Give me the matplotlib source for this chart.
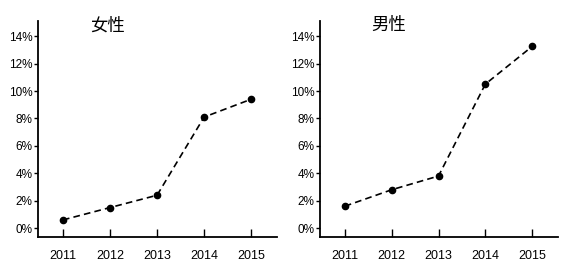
import matplotlib
matplotlib.use("Agg")
import matplotlib.pyplot as plt
from matplotlib.ticker import FuncFormatter

plt.rcParams['font.family'] = ['Liberation Sans', 'Noto Sans CJK SC', 'DejaVu Sans']

years = [2011, 2012, 2013, 2014, 2015]
female = [0.6, 1.5, 2.4, 8.1, 9.4]
male = [1.6, 2.8, 3.8, 10.5, 13.25]
titles = ['女性', '男性']
yticks = [0, 2, 4, 6, 8, 10, 12, 14]

fig = plt.figure(figsize=(5.76, 2.7), dpi=100)
ax1 = fig.add_axes([0.066, 0.122, 0.415, 0.8])
ax2 = fig.add_axes([0.5556, 0.122, 0.413, 0.8])

for ax, vals, title in zip([ax1, ax2], [female, male], titles):
    ax.plot(years, vals, color='black', linestyle=(0, (4, 2.5)), linewidth=1.2,
            marker='o', markersize=4.5)
    ax.set_xlim(2010.47, 2015.55)
    ax.set_ylim(-0.65, 15.1)
    ax.set_xticks(years)
    ax.set_yticks(yticks)
    ax.yaxis.set_major_formatter(FuncFormatter(lambda v, p: '%d%%' % v))
    ax.spines['top'].set_visible(False)
    ax.spines['right'].set_visible(False)
    ax.spines['left'].set_linewidth(1.3)
    ax.spines['bottom'].set_linewidth(1.3)
    ax.tick_params(axis='x', direction='in', length=6, width=1, pad=9, labelsize=9)
    ax.tick_params(axis='y', direction='out', length=3, width=1, pad=1, labelsize=8.5)
    ax.text(0.29, 0.98, title, transform=ax.transAxes, ha='center', va='center',
            fontsize=12.5, family=['Noto Sans CJK SC', 'DejaVu Sans'])

fig.savefig('out.png', dpi=100)
